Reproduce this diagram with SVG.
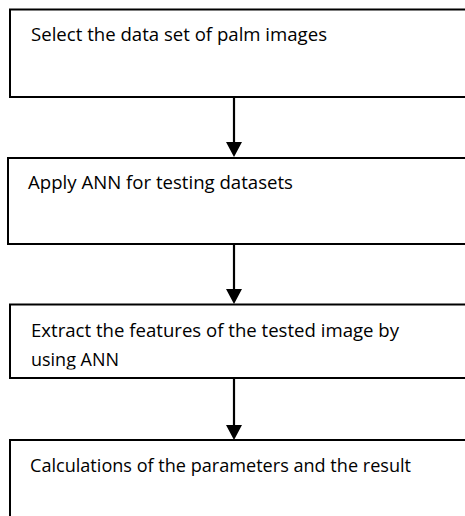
<svg xmlns="http://www.w3.org/2000/svg" width="465" height="516" viewBox="0 0 465 516">
<style>
.box{fill:#fff;stroke:#000;stroke-width:2}
.lbl{font-family:"Open Sans","Liberation Sans",sans-serif;font-size:19px;fill:#000}
.conn line{stroke:#000;stroke-width:2.2}
.conn polygon{fill:#000}
</style>
<defs>
<clipPath id="c3"><rect x="0" y="300" width="465" height="69.5"/></clipPath>
</defs>
<rect width="465" height="516" fill="#fff"/>
<g id="n1">
<rect class="box" x="10" y="9.5" width="470" height="87.5"/>
<text class="lbl" x="31" y="40.5" textLength="296" lengthAdjust="spacingAndGlyphs">Select the data set of palm images</text>
</g>
<g id="n2">
<rect class="box" x="8" y="158" width="472" height="86"/>
<text class="lbl" x="28" y="188.5" textLength="265" lengthAdjust="spacingAndGlyphs">Apply ANN for testing datasets</text>
</g>
<g id="n3">
<rect class="box" x="10" y="304.5" width="470" height="73.5"/>
<g clip-path="url(#c3)">
<text class="lbl" x="31" y="336.7" textLength="368" lengthAdjust="spacingAndGlyphs">Extract the features of the tested image by</text>
<text class="lbl" x="31" y="366" textLength="88" lengthAdjust="spacingAndGlyphs">using ANN</text>
</g>
</g>
<g id="n4">
<rect class="box" x="10" y="440" width="470" height="90"/>
<text class="lbl" x="30" y="471.5" textLength="381" lengthAdjust="spacingAndGlyphs">Calculations of the parameters and the result</text>
</g>
<g id="connectors" class="conn">
<line x1="234" y1="97" x2="234" y2="143"/>
<polygon points="226,142 242,142 234,157"/>
<line x1="234" y1="244" x2="234" y2="290"/>
<polygon points="226,289 242,289 234,304"/>
<line x1="234" y1="378" x2="234" y2="426"/>
<polygon points="226,425 242,425 234,440"/>
</g>
</svg>
